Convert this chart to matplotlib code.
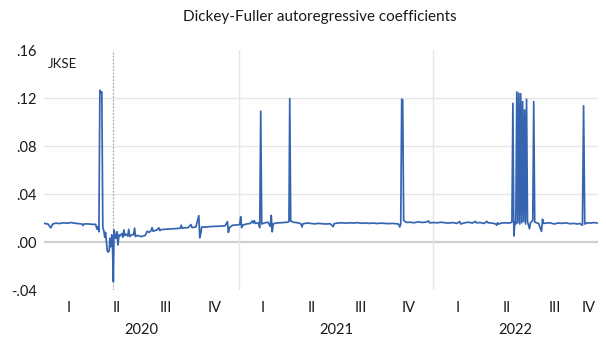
import numpy as np
import matplotlib
matplotlib.use("Agg")
import matplotlib.pyplot as plt

# Dickey-Fuller AR coefficient, JKSE, daily obs (time in decimal years)
t = [2020.000, 2020.020, 2020.035, 2020.045, 2020.060, 2020.080, 2020.100, 2020.120,
     2020.140, 2020.160, 2020.180, 2020.195, 2020.200, 2020.205, 2020.220, 2020.240,
     2020.255, 2020.265, 2020.272, 2020.277, 2020.282, 2020.287, 2020.292, 2020.297,
     2020.302, 2020.307, 2020.312, 2020.316, 2020.320, 2020.325, 2020.330, 2020.335,
     2020.338, 2020.343, 2020.348, 2020.352, 2020.356, 2020.360, 2020.365, 2020.370,
     2020.375, 2020.380, 2020.385, 2020.390, 2020.400, 2020.405, 2020.410, 2020.415,
     2020.420, 2020.430, 2020.435, 2020.440, 2020.450, 2020.460, 2020.465, 2020.470,
     2020.480, 2020.500, 2020.520, 2020.530, 2020.540, 2020.550, 2020.555, 2020.560,
     2020.580, 2020.590, 2020.595, 2020.600, 2020.620, 2020.640, 2020.660, 2020.680,
     2020.700, 2020.705, 2020.710, 2020.720, 2020.740, 2020.755, 2020.760, 2020.780,
     2020.795, 2020.800, 2020.805, 2020.810, 2020.830, 2020.850, 2020.870, 2020.890,
     2020.910, 2020.930, 2020.942, 2020.947, 2020.952, 2020.970, 2020.990,
     2021.005, 2021.010, 2021.015, 2021.020, 2021.040, 2021.060, 2021.070, 2021.075,
     2021.080, 2021.085, 2021.100, 2021.108, 2021.113, 2021.118, 2021.130, 2021.150,
     2021.162, 2021.167, 2021.172, 2021.177, 2021.190, 2021.210, 2021.230, 2021.250,
     2021.258, 2021.262, 2021.267, 2021.280, 2021.300, 2021.310, 2021.320, 2021.325,
     2021.330, 2021.350, 2021.370, 2021.390, 2021.410, 2021.430, 2021.450, 2021.470,
     2021.485, 2021.490, 2021.510, 2021.530, 2021.550, 2021.570, 2021.590, 2021.610,
     2021.630, 2021.650, 2021.670, 2021.690, 2021.710, 2021.730, 2021.750, 2021.770,
     2021.790, 2021.810, 2021.820, 2021.827, 2021.832, 2021.837, 2021.842, 2021.847,
     2021.860, 2021.880, 2021.900, 2021.920, 2021.940, 2021.960, 2021.975, 2021.980,
     2022.000, 2022.020, 2022.040, 2022.060, 2022.080, 2022.100, 2022.120, 2022.135,
     2022.140, 2022.160, 2022.180, 2022.200, 2022.215, 2022.220, 2022.240, 2022.260,
     2022.275, 2022.280, 2022.300, 2022.320, 2022.325, 2022.330, 2022.335, 2022.350,
     2022.370, 2022.390, 2022.403, 2022.408, 2022.413, 2022.418, 2022.423, 2022.428,
     2022.433, 2022.438, 2022.443, 2022.448, 2022.453, 2022.458, 2022.463, 2022.468,
     2022.473, 2022.478, 2022.483, 2022.493, 2022.498, 2022.510, 2022.515, 2022.520,
     2022.530, 2022.540, 2022.555, 2022.560, 2022.565, 2022.580, 2022.600, 2022.620,
     2022.640, 2022.660, 2022.680, 2022.700, 2022.720, 2022.740, 2022.750, 2022.765,
     2022.771, 2022.777, 2022.790, 2022.810, 2022.825, 2022.840]

coef = [0.0155, 0.0150, 0.0118, 0.0150, 0.0157, 0.0154, 0.0160, 0.0157,
        0.0162, 0.0156, 0.0153, 0.0150, 0.0137, 0.0150, 0.0151, 0.0149,
        0.0146, 0.0148, 0.0108, 0.0128, 0.0085, 0.1265, 0.1240, 0.1250,
        0.0120, 0.0095, 0.0040, 0.0080, 0.0015, -0.0075, -0.0085, -0.0070,
        0.0030, -0.0040, 0.0060, -0.0050, -0.0330, 0.0100, 0.0050, 0.0030,
        0.0085, -0.0025, 0.0060, 0.0050, 0.0070, 0.0040, 0.0100, 0.0055,
        0.0065, 0.0050, 0.0105, 0.0045, 0.0060, 0.0060, 0.0115, 0.0045,
        0.0055, 0.0045, 0.0055, 0.0090, 0.0080, 0.0095, 0.0120, 0.0090,
        0.0100, 0.0118, 0.0095, 0.0103, 0.0106, 0.0108, 0.0110, 0.0112,
        0.0115, 0.0140, 0.0114, 0.0118, 0.0120, 0.0145, 0.0120, 0.0125,
        0.0220, 0.0035, 0.0070, 0.0125, 0.0124, 0.0128, 0.0130, 0.0131,
        0.0133, 0.0135, 0.0170, 0.0080, 0.0120, 0.0140, 0.0142,
        0.0145, 0.0210, 0.0120, 0.0140, 0.0150, 0.0155, 0.0175, 0.0158,
        0.0178, 0.0155, 0.0160, 0.0120, 0.1090, 0.0150, 0.0158, 0.0165,
        0.0130, 0.0222, 0.0085, 0.0150, 0.0158, 0.0160, 0.0162, 0.0165,
        0.0170, 0.1195, 0.0175, 0.0165, 0.0160, 0.0158, 0.0150, 0.0125,
        0.0152, 0.0158, 0.0155, 0.0151, 0.0155, 0.0152, 0.0150, 0.0152,
        0.0128, 0.0153, 0.0158, 0.0160, 0.0157, 0.0160, 0.0158, 0.0161,
        0.0156, 0.0159, 0.0155, 0.0158, 0.0154, 0.0157, 0.0155, 0.0153,
        0.0155, 0.0152, 0.0150, 0.0125, 0.0150, 0.1190, 0.1185, 0.0180,
        0.0163, 0.0165, 0.0160, 0.0168, 0.0163, 0.0165, 0.0175, 0.0160,
        0.0162, 0.0160, 0.0165, 0.0160, 0.0158, 0.0162, 0.0155, 0.0170,
        0.0150, 0.0160, 0.0165, 0.0158, 0.0172, 0.0160, 0.0162, 0.0155,
        0.0172, 0.0160, 0.0158, 0.0150, 0.0140, 0.0160, 0.0150, 0.0158,
        0.0160, 0.0158, 0.0165, 0.1155, 0.0050, 0.0170, 0.0150, 0.1250,
        0.0160, 0.1240, 0.0150, 0.1235, 0.0160, 0.1170, 0.0170, 0.1100,
        0.0150, 0.1190, 0.0170, 0.0110, 0.0160, 0.0180, 0.1170, 0.0165,
        0.0160, 0.0155, 0.0088, 0.0190, 0.0155, 0.0158, 0.0160, 0.0150,
        0.0158, 0.0155, 0.0160, 0.0152, 0.0155, 0.0150, 0.0155, 0.0140,
        0.1135, 0.0150, 0.0160, 0.0158, 0.0162, 0.0158]

years = [2020, 2021, 2022]
quarters = ["I", "II", "III", "IV"]
t_end = 2022.845
break_t = 2020.352
grid_vals = [0.0, 0.04, 0.08, 0.12]
yticks = [-0.04, 0.0, 0.04, 0.08, 0.12, 0.16]
ytick_labels = ["-.04", ".00", ".04", ".08", ".12", ".16"]

plt.rcParams["font.family"] = ["Lato", "DejaVu Sans"]

fig = plt.figure(figsize=(6.06, 3.44), dpi=100)
ax = fig.add_axes([44 / 606, 1 - 290 / 344, (598 - 44) / 606, 240 / 344])

for g in grid_vals:
    if g == 0:
        ax.axhline(g, color="#cfcfcf", lw=1.6, zorder=1)
    else:
        ax.axhline(g, color="#e6e6e6", lw=1.0, zorder=1)
for y in years[1:]:
    ax.axvline(y, color="#e6e6e6", lw=1.0, zorder=1)
ax.axvline(break_t, color="#a8a8a8", lw=0.9, ls=(0, (1.5, 1.2)), zorder=1)

ax.plot(t, coef, color="#3565b0", lw=1.25, zorder=3)

ax.set_xlim(2020.0, t_end)
ax.set_ylim(-0.04, 0.16)
ax.set_yticks(yticks, ytick_labels)
for s in ax.spines.values():
    s.set_visible(False)
ax.tick_params(axis="y", length=0, pad=5, labelsize=10.5, colors="#1a1a1a")

# quarter labels and year labels
q_pos, q_lab = [], []
for y in years:
    for i, q in enumerate(quarters):
        a = y + i / 4
        b = min(a + 0.25, t_end)
        if a < t_end:
            q_pos.append((a + b) / 2)
            q_lab.append(q)
ax.set_xticks(q_pos, q_lab)
ax.tick_params(axis="x", length=0, pad=8, labelsize=10.5, colors="#1a1a1a")
for y in years:
    c = (y + min(y + 1, t_end)) / 2
    ax.text(c, -0.165, str(y), transform=ax.get_xaxis_transform(),
            ha="center", va="center", fontsize=10.5, color="#1a1a1a")

ax.text(0.007, 0.94, "JKSE", transform=ax.transAxes, ha="left", va="center",
        fontsize=9.5, color="#1a1a1a")
fig.text(0.528, 1 - 17 / 344, "Dickey-Fuller autoregressive coefficients",
         ha="center", va="center", fontsize=11, color="#1a1a1a")

fig.savefig("out.png", dpi=100)
